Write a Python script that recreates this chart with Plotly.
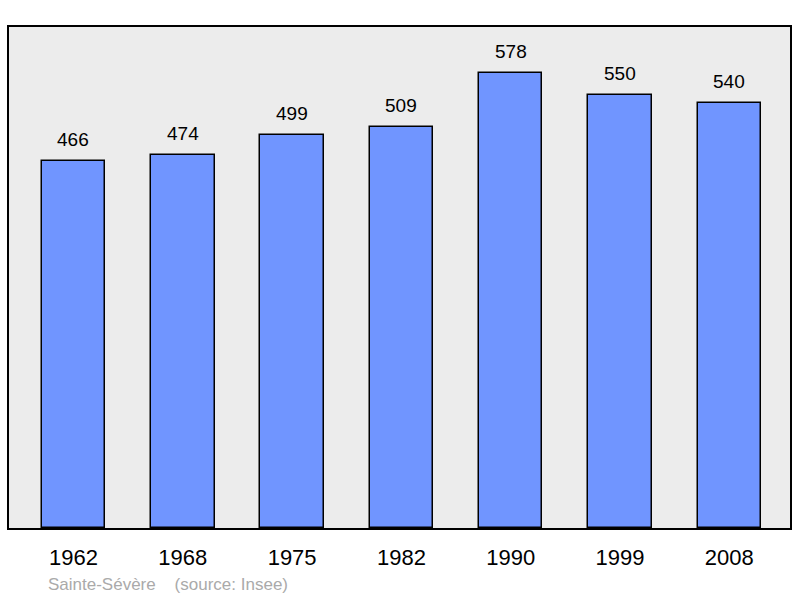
import plotly.graph_objects as go

years = ["1962", "1968", "1975", "1982", "1990", "1999", "2008"]
population = [466, 474, 499, 509, 578, 550, 540]

idx = list(range(len(years)))

fig = go.Figure()
fig.add_trace(go.Bar(
    x=idx, y=population, width=0.58,
    marker=dict(color="#7095ff", line=dict(color="#000000", width=1.5)),
    hoverinfo="skip",
))

# valeurs au-dessus des barres
for i, v in zip(idx, population):
    fig.add_annotation(x=i, y=v, text=str(v), showarrow=False,
                       yanchor="bottom", yshift=9,
                       font=dict(family="Liberation Sans, Arial", size=19, color="#000000"))

fig.add_annotation(xref="paper", yref="paper", x=0.048, y=-0.112,
                   xanchor="left", yanchor="middle", showarrow=False,
                   text="Sainte-Sévère&nbsp;&nbsp;&nbsp;&nbsp;(source: Insee)",
                   font=dict(family="Liberation Sans, Arial", size=17, color="#aaaaaa"))

fig.update_xaxes(range=[-0.59, 6.555], tickvals=idx, ticktext=years,
                 showgrid=False, zeroline=False, ticks="", ticklabelstandoff=9,
                 showline=True, linecolor="#000000", linewidth=2, mirror=True,
                 tickfont=dict(family="Liberation Sans, Arial", size=22, color="#000000"))
fig.update_yaxes(range=[0, 636.5], showticklabels=False, showgrid=False,
                 zeroline=False, showline=True, linecolor="#000000",
                 linewidth=2, mirror=True)

fig.update_layout(
    width=800, height=598,
    margin=dict(l=9, r=10, t=27, b=70),
    plot_bgcolor="#ececec", paper_bgcolor="#ffffff",
    showlegend=False, bargap=0,
)

fig.write_html("out.html", config={"displayModeBar": False},
               post_script="document.body.style.margin='0';")
